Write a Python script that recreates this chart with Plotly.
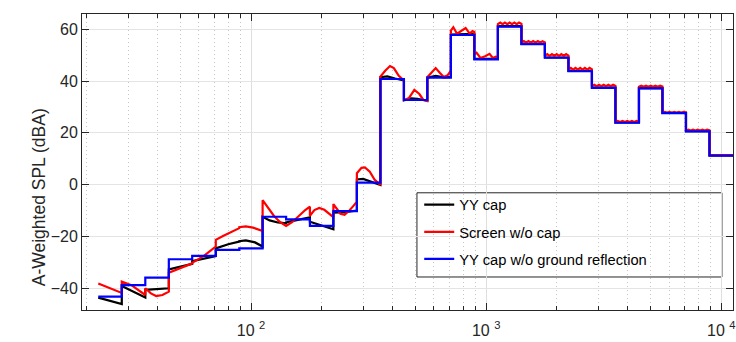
import plotly.graph_objects as go

# One-third-octave band edges (Hz)
band_edges_hz = [22.4, 28.2, 35.5, 44.7, 56.2, 70.8, 89.1, 112, 141, 178, 224, 282,
                 355, 447, 562, 708, 891, 1122, 1413, 1778, 2239, 2818, 3548, 4467,
                 5623, 7079, 8913, 11220]

# YY cap w/o ground reflection: one level per band (dBA)
no_ground_levels = [-43.2, -38.8, -35.9, -28.8, -27.5, -25.2, -24.6, -12.4, -13.4,
                    -15.9, -10.2, 0.8, 40.8, 32.7, 41.3, 57.8, 48.4, 61.0, 54.3, 49.0,
                    43.8, 37.4, 23.9, 37.2, 27.6, 20.6, 11.2]

# YY cap (Hz, dBA)
yy_cap_points = [
    (22.4, -43.6), (28.2, -46.1),
    (28.2, -39.1), (35.5, -43.6),
    (35.5, -40.6), (40, -40.4), (44.7, -40.0),
    (44.7, -32.7), (56.2, -30.6),
    (56.2, -29.5), (70.8, -27.6),
    (70.8, -24.6), (80, -23.0), (89.1, -22.0),
    (89.1, -21.8), (95, -21.5), (104, -22.3), (112, -23.9),
    (112, -12.4), (120, -13.8), (130, -14.6), (141, -14.9),
    (141, -14.6), (160, -13.5), (178, -12.6),
    (178, -14.3), (200, -15.8), (224, -17.2),
    (224, -10.8), (250, -10.6), (282, -10.0),
    (282, 2.0), (300, 2.2), (330, 1.0), (355, -0.1),
    (355, 41.5), (380, 41.8), (410, 41.0), (447, 40.2),
    (447, 32.6), (480, 33.3), (510, 33.1), (562, 32.4),
    (562, 41.3), (610, 42.0), (660, 41.4), (708, 41.6),
    (708, 58.0), (891, 58.2),
    (891, 48.6), (1122, 48.6),
    (1122, 61.2), (1413, 61.2),
    (1413, 54.4), (1778, 54.4),
    (1778, 49.1), (2239, 49.1),
    (2239, 43.9), (2818, 43.9),
    (2818, 37.5), (3548, 37.5),
    (3548, 24.0), (4467, 24.0),
    (4467, 37.3), (5623, 37.3),
    (5623, 27.7), (7079, 27.7),
    (7079, 20.7), (8913, 20.7),
    (8913, 11.3), (11220, 11.3),
]

# Screen w/o cap (Hz, dBA)
screen_points = [
    (22.4, -38.2), (28.2, -41.8),
    (28.2, -37.4), (31, -38.8), (35.5, -42.6),
    (35.5, -40.0), (37.5, -42.0), (39.5, -43.0), (42, -42.6), (44.7, -41.3),
    (44.7, -34.0), (50, -32.3), (56.2, -30.4),
    (56.2, -30.2), (63, -27.5), (70.8, -23.9),
    (70.8, -21.3), (76, -19.8), (82, -18.3), (89.1, -16.8),
    (89.1, -16.4), (95, -16.1), (102, -16.6), (112, -17.9),
    (112, -6.0), (118, -9.0), (125, -12.0), (133, -14.5), (141, -15.9),
    (150, -14.4), (160, -12.0), (170, -9.8), (178, -8.5),
    (178, -12.0), (186, -9.8), (195, -9.0), (205, -9.7), (215, -11.3), (224, -12.5),
    (224, -7.5), (232, -9.5), (240, -11.2), (250, -11.6), (262, -10.0), (272, -8.3), (282, -6.6),
    (282, 4.4), (295, 6.5), (305, 6.7), (320, 5.0), (335, 2.0), (355, -0.1),
    (355, 41.7), (372, 44.0), (390, 45.8), (405, 45.0), (425, 42.0), (447, 40.2),
    (447, 32.7), (470, 33.5), (495, 36.6), (520, 35.0), (540, 32.8), (562, 32.3),
    (562, 41.5), (590, 43.8), (610, 45.0), (635, 43.2), (660, 41.6), (685, 42.2), (708, 44.0),
    (708, 59.5), (725, 60.8), (752, 58.3), (785, 59.5), (818, 60.5), (851, 58.3), (875, 59.3), (891, 59.0),
    (891, 50.5), (910, 51.0), (946, 48.9), (990, 49.6), (1034, 50.5), (1067, 48.9), (1100, 49.4), (1122, 49.2),
    (1122, 62.0), (1148, 62.6), (1175, 62.0), (1202, 62.6), (1230, 62.0), (1259, 62.6),
    (1288, 62.0), (1318, 62.6), (1349, 62.0), (1380, 62.6), (1413, 62.1),
    (1413, 54.8), (1446, 55.4), (1479, 54.8), (1514, 55.4), (1549, 54.8), (1585, 55.4),
    (1622, 54.8), (1660, 55.4), (1698, 54.8), (1738, 55.4), (1778, 54.9),
    (1778, 49.7), (1820, 50.4), (1862, 49.7), (1905, 50.4), (1950, 49.7), (1995, 50.4),
    (2042, 49.7), (2089, 50.4), (2138, 49.7), (2188, 50.4), (2239, 49.8),
    (2239, 44.4), (2291, 45.1), (2344, 44.4), (2399, 45.1), (2455, 44.4), (2512, 45.1),
    (2570, 44.4), (2630, 45.1), (2692, 44.4), (2754, 45.1), (2818, 44.5),
    (2818, 38.0), (2884, 38.6), (2951, 38.0), (3020, 38.6), (3090, 38.0), (3162, 38.6),
    (3236, 38.0), (3311, 38.6), (3388, 38.0), (3467, 38.6), (3548, 38.1),
    (3548, 24.2), (3631, 24.6), (3715, 24.2), (3802, 24.6), (3890, 24.2), (3981, 24.6),
    (4074, 24.2), (4169, 24.6), (4266, 24.2), (4365, 24.6), (4467, 24.3),
    (4467, 37.8), (4571, 38.2), (4677, 37.8), (4786, 38.2), (4898, 37.8), (5012, 38.2),
    (5129, 37.8), (5248, 38.2), (5370, 37.8), (5495, 38.2), (5623, 37.9),
    (5623, 27.8), (5754, 28.1), (5888, 27.8), (6026, 28.1), (6166, 27.8), (6310, 28.1),
    (6457, 27.8), (6607, 28.1), (6761, 27.8), (6918, 28.1), (7079, 27.9),
    (7079, 20.9), (7244, 21.2), (7413, 20.9), (7586, 21.2), (7762, 20.9), (7943, 21.2),
    (8128, 20.9), (8318, 21.2), (8511, 20.9), (8710, 21.2), (8913, 21.0),
    (8913, 11.4), (11220, 11.4),
]

major_ticks = [100, 1000, 10000]
major_labels = ["10 <sup>2</sup>", "10 <sup>3</sup>", "10 <sup>4</sup>"]
minor_ticks = [m * d for d in (10, 100, 1000) for m in range(2, 10)]
y_ticks = [-40, -20, 0, 20, 40, 60]

FONT = "Liberation Sans, Arial, sans-serif"
INK = "#262626"

fig = go.Figure()
fig.add_trace(go.Scatter(
    x=[p[0] for p in yy_cap_points], y=[p[1] for p in yy_cap_points],
    mode="lines", name="YY cap", legendgroup="a",
    line=dict(color="black", width=2.2)))
fig.add_trace(go.Scatter(
    x=[p[0] for p in screen_points], y=[p[1] for p in screen_points],
    mode="lines", name="Screen w/o cap", legendgroup="b",
    line=dict(color="red", width=2.2)))
fig.add_trace(go.Scatter(
    x=band_edges_hz, y=no_ground_levels + [no_ground_levels[-1]],
    mode="lines", name="YY cap w/o ground reflection", legendgroup="c",
    line=dict(color="blue", width=2.2, shape="hv")))

fig.update_layout(
    width=736, height=342,
    margin=dict(l=82, r=1, t=14, b=32),
    paper_bgcolor="white", plot_bgcolor="white",
    font=dict(family=FONT, color=INK),
    showlegend=True,
    legend=dict(
        x=0.518, y=0.41, xanchor="left", yanchor="top",
        bgcolor="rgba(0,0,0,0)", borderwidth=0,
        font=dict(size=14.7, color="black"),
        tracegroupgap=5, traceorder="grouped",
    ),
    xaxis=dict(
        type="log", range=[1.281, 4.05],
        tickmode="array", tickvals=major_ticks, ticktext=major_labels,
        ticks="inside", ticklen=7, tickcolor=INK,
        showline=True, linecolor=INK, linewidth=1, mirror="ticks",
        showgrid=True, gridcolor="#dedede", gridwidth=1,
        tickfont=dict(size=16, color=INK),
        ticklabelstandoff=6, ticklabeloverflow="allow",
        minor=dict(tickmode="array", tickvals=minor_ticks, ticks="inside",
                   ticklen=4, tickcolor=INK, showgrid=True,
                   gridcolor="#c4c4c4", griddash="1px,3px", gridwidth=1),
        zeroline=False,
    ),
    yaxis=dict(
        range=[-48.4, 65.9],
        tickmode="array", tickvals=y_ticks,
        ticks="inside", ticklen=7, tickcolor=INK,
        showline=True, linecolor=INK, linewidth=1, mirror="ticks",
        showgrid=True, gridcolor="#e4e4e4", gridwidth=1,
        tickfont=dict(size=16, color=INK),
        zeroline=False,
    ),
    shapes=[dict(type="rect", xref="paper", yref="paper",
                 x0=0.5145, x1=0.983, y0=0.1115, y1=0.396,
                 line=dict(color=INK, width=1), fillcolor="white", layer="below")],
    annotations=[dict(text="A-Weighted SPL (dBA)", xref="paper", yref="paper",
                      x=-0.084, y=0.382, textangle=-90, showarrow=False,
                      font=dict(size=17.5, color=INK))],
)

fig.write_html("out.html")
